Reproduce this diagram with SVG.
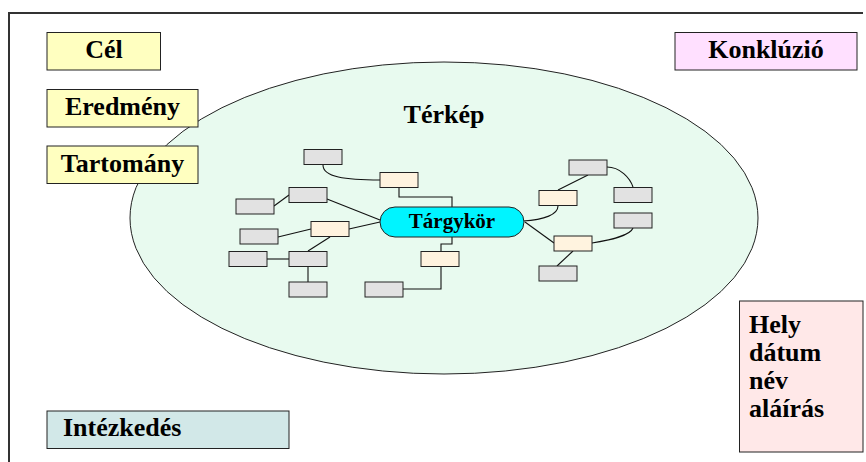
<svg xmlns="http://www.w3.org/2000/svg" width="866" height="462" viewBox="0 0 866 462">
<style>
.lbl{font-family:"Liberation Serif","Times New Roman",serif;font-weight:bold;font-size:26px;fill:#000}
.box{stroke:#222;stroke-width:1}
.g{fill:#e2e2e2;stroke:#222;stroke-width:1}
.p{fill:#fff3df;stroke:#222;stroke-width:1}
.c{fill:none;stroke:#111;stroke-width:1.1}
</style>
<rect width="866" height="462" fill="#fff"/>
<path d="M9,462 V13 H863" fill="none" stroke="#333" stroke-width="2"/>
<g id="terkep">
<ellipse cx="444" cy="218" rx="314" ry="156" fill="#e8faef" stroke="#222" stroke-width="1"/>
<text class="lbl" x="444" y="123" text-anchor="middle">Térkép</text>
</g>
<g id="cel"><rect class="box" x="47" y="32.5" width="113.5" height="37.5" fill="#ffffc0"/><text class="lbl" x="104" y="58" text-anchor="middle">Cél</text></g>
<g id="eredmeny"><rect class="box" x="47" y="89.5" width="151" height="37.5" fill="#ffffc0"/><text class="lbl" x="122.5" y="115" text-anchor="middle">Eredmény</text></g>
<g id="tartomany"><rect class="box" x="47" y="146" width="151" height="37.5" fill="#ffffc0"/><text class="lbl" x="122.5" y="172" text-anchor="middle">Tartomány</text></g>
<g id="konkluzio"><rect class="box" x="675" y="32.5" width="182" height="37.5" fill="#ffe0ff"/><text class="lbl" x="766" y="58" text-anchor="middle">Konklúzió</text></g>
<g id="intezkedes"><rect class="box" x="47" y="411" width="242" height="37.5" fill="#d2e8e8"/><text class="lbl" x="63" y="436">Intézkedés</text></g>
<g id="hely"><rect class="box" x="739.5" y="301" width="123.5" height="151" fill="#ffe8e8"/>
<text class="lbl" x="749" y="333">Hely</text><text class="lbl" x="749" y="361">dátum</text><text class="lbl" x="749" y="389">név</text><text class="lbl" x="749" y="417">aláírás</text></g>
<g id="connectors">
<path class="c" d="M323,165 C323,177 345,180 380,180"/>
<path class="c" d="M399,187 V197 H452 V207"/>
<path class="c" d="M327,199 L380,220"/>
<path class="c" d="M274,206 L289,195"/>
<path class="c" d="M349,229 L380,222"/>
<path class="c" d="M278,237 L311,229"/>
<path class="c" d="M330,237 L308,251"/>
<path class="c" d="M267,259 H289"/>
<path class="c" d="M308,267 V282"/>
<path class="c" d="M452,237 V244 H441 V251"/>
<path class="c" d="M441,267 V289 H403"/>
<path class="c" d="M523,221 C545,220 558,214 558,206"/>
<path class="c" d="M558,190 L588,175"/>
<path class="c" d="M607,167 C620,167 630,178 633,187"/>
<path class="c" d="M525,222 L554,243"/>
<path class="c" d="M592,243 C610,240 630,236 633,228"/>
<path class="c" d="M573,251 L557,266"/>
</g>
<g id="targykor"><rect x="380" y="207" width="144" height="30" rx="15" fill="#00f4ff" stroke="#222" stroke-width="1"/>
<text x="452" y="228" text-anchor="middle" style="font-family:'Liberation Serif','Times New Roman',serif;font-weight:bold;font-size:21px">Tárgykör</text></g>
<g id="n1"><rect class="g" x="304" y="149.5" width="38" height="15"/></g>
<g id="n2"><rect class="p" x="380" y="172.5" width="38" height="15"/></g>
<g id="n3"><rect class="g" x="289" y="187.5" width="38" height="15"/></g>
<g id="n4"><rect class="g" x="236" y="199" width="38" height="15"/></g>
<g id="n5"><rect class="p" x="311" y="221.5" width="38" height="15"/></g>
<g id="n6"><rect class="g" x="240" y="229" width="38" height="15"/></g>
<g id="n7"><rect class="g" x="229" y="251.5" width="38" height="15"/></g>
<g id="n8"><rect class="g" x="289" y="251.5" width="38" height="15"/></g>
<g id="n9"><rect class="g" x="289" y="282" width="38" height="15"/></g>
<g id="n10"><rect class="g" x="365" y="282" width="38" height="15"/></g>
<g id="n11"><rect class="p" x="421" y="251.5" width="38" height="15"/></g>
<g id="n12"><rect class="g" x="569" y="160" width="38" height="15"/></g>
<g id="n13"><rect class="p" x="539" y="190.5" width="38" height="15"/></g>
<g id="n14"><rect class="g" x="614" y="187.5" width="38" height="15"/></g>
<g id="n15"><rect class="g" x="614" y="213" width="38" height="15"/></g>
<g id="n16"><rect class="p" x="554" y="236" width="38" height="15"/></g>
<g id="n17"><rect class="g" x="539" y="266" width="38" height="15"/></g>
</svg>
